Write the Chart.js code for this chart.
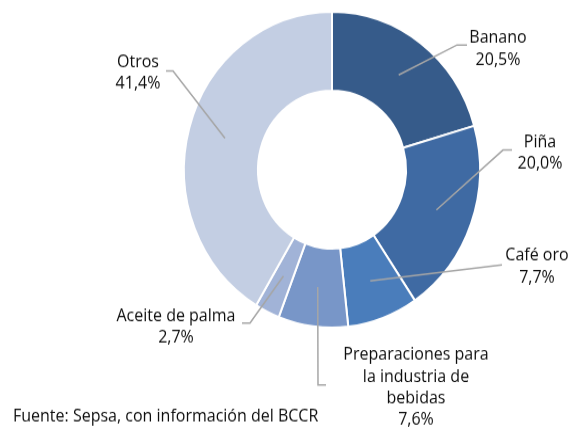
<!DOCTYPE html>
<html lang="es">
<head>
<meta charset="utf-8">
<title>Exportaciones agropecuarias</title>
<script src="https://cdn.jsdelivr.net/npm/chart.js@4.4.0/dist/chart.umd.min.js"></script>
<style>
  html, body { margin: 0; padding: 0; background: #fff; }
  #frame { position: relative; width: 572px; height: 431px; overflow: hidden; }
  /* the source picture is slightly stretched vertically */
  #wrap { position: absolute; left: 0; top: 0; width: 572px; height: 404px; transform: scaleY(1.067); transform-origin: 0 0; }
</style>
</head>
<body>
<div id="frame"><div id="wrap"><canvas id="chart" width="572" height="404"></canvas></div></div>
<script>
const categories = ['Banano', 'Piña', 'Café oro', 'Preparaciones para la industria de bebidas', 'Aceite de palma', 'Otros'];
const shares = [20.5, 20.0, 7.7, 7.6, 2.7, 41.4];
const sliceColors = ['#365b8a', '#3f6aa3', '#4a7dbb', '#7896c8', '#a1b3d7', '#c3cee3'];
const sourceNote = 'Fuente: Sepsa, con información del BCCR';

const SY = 1.067;
// label placement in page pixels: text lines, text centre, elbow and end of the leader
const labelLayout = [
  { lines: ['Banano'], tx: 498, ty: 38, elbow: [457, 45], end: [467, 45] },
  { lines: ['Piña'], tx: 540, ty: 142, elbow: [503, 150], end: [512, 150] },
  { lines: ['Café oro'], tx: 537, ty: 256, elbow: [502, 265], end: [502, 265] },
  { lines: ['Preparaciones para', 'la industria de', 'bebidas'], tx: 416, ty: 355, elbow: [318, 385], end: [326, 385] },
  { lines: ['Aceite de palma'], tx: 176, ty: 316, elbow: [250, 323], end: [242, 323] },
  { lines: ['Otros'], tx: 138, ty: 62, elbow: [173, 71], end: [166, 71] }
];

const FONT = '16px "Open Sans", Lato, sans-serif';

const leaderLabels = {
  id: 'leaderLabels',
  afterDatasetsDraw(chart) {
    const ctx = chart.ctx;
    const arcs = chart.getDatasetMeta(0).data;
    ctx.save();
    ctx.strokeStyle = '#a6a6a6';
    ctx.lineWidth = 1.5;
    arcs.forEach((arc, i) => {
      const p = arc.tooltipPosition();
      const L = labelLayout[i];
      ctx.beginPath();
      ctx.moveTo(p.x, p.y);
      ctx.lineTo(L.elbow[0], L.elbow[1] / SY);
      ctx.lineTo(L.end[0], L.end[1] / SY);
      ctx.stroke();
    });
    ctx.fillStyle = '#0d0d0d';
    ctx.font = FONT;
    ctx.textAlign = 'center';
    ctx.textBaseline = 'middle';
    arcs.forEach((arc, i) => {
      const L = labelLayout[i];
      const txt = L.lines.concat([shares[i].toFixed(1).replace('.', ',') + '%']);
      txt.forEach((t, k) => ctx.fillText(t, L.tx, (L.ty + k * 21.7) / SY));
    });
    ctx.textAlign = 'left';
    ctx.fillText(sourceNote, 13, 417 / SY);
    ctx.restore();
  }
};

new Chart(document.getElementById('chart'), {
  type: 'doughnut',
  data: {
    labels: categories,
    datasets: [{
      data: shares,
      backgroundColor: sliceColors,
      borderColor: '#ffffff',
      borderWidth: 2
    }]
  },
  options: {
    responsive: false,
    animation: false,
    cutout: '50%',
    layout: { padding: { top: 10, bottom: 96, left: 183, right: 91 } },
    plugins: {
      legend: { display: false },
      tooltip: { enabled: false }
    }
  },
  plugins: [leaderLabels]
});
</script>
</body>
</html>
